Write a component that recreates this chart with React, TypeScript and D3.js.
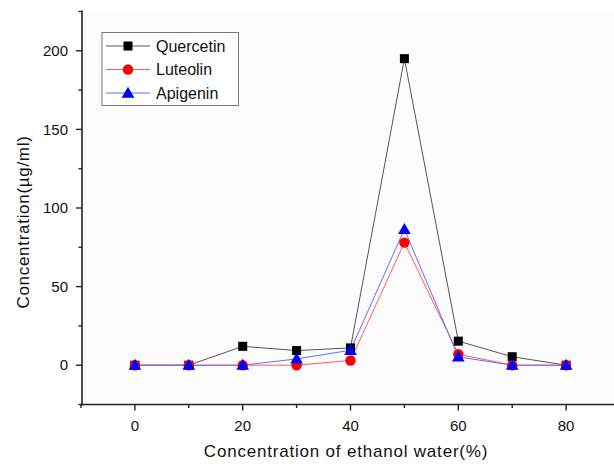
import React from "react";
import * as d3 from "d3";

// ethanol concentration (%) and measured concentrations (µg/ml)
const ethanol = [0, 10, 20, 30, 40, 50, 60, 70, 80];
const quercetin = [0, 0, 12, 9.3, 11, 195, 15.3, 5.4, 0];
const luteolin = [0, 0, 0, 0, 3, 78, 7, 0, 0];
const apigenin = [0, 0, 0, 4, 9.5, 86.5, 5.3, 0, 0];

const yMajor = [0, 50, 100, 150, 200];
const yMinor = [-25, 25, 75, 125, 175, 225];
const xMajor = [0, 20, 40, 60, 80];
const xMinor = [-10, 10, 30, 50, 70];

const FONT = "'Liberation Sans', Arial, Helvetica, sans-serif";

const series = [
  { name: "Quercetin", values: quercetin, line: "#555", fill: "#000", shape: "square" },
  { name: "Luteolin", values: luteolin, line: "#ff5a5a", fill: "#ff0000", shape: "circle" },
  { name: "Apigenin", values: apigenin, line: "#6a6aff", fill: "#0000ff", shape: "triangle" },
];

const Marker = ({ shape, x, y, fill }: { shape: string; x: number; y: number; fill: string }) => {
  if (shape === "square") return <rect x={x - 4.5} y={y - 4.5} width={9} height={9} fill={fill} />;
  if (shape === "circle") return <circle cx={x} cy={y} r={5.2} fill={fill} />;
  const p = d3.symbol(d3.symbolTriangle, 70)();
  return <path d={p || ""} transform={`translate(${x},${y + 1})`} fill={fill} />;
};

export default function App() {
  const width = 614;
  const height = 464;
  const left = 82;
  const bottom = 404.5;
  const top = 11.5;

  const x = d3.scaleLinear().domain([-10, 90]).range([81, 620]);
  const y = d3.scaleLinear().domain([-25, 225]).range([bottom, top]);

  const line = d3
    .line<number>()
    .x((_, i) => x(ethanol[i]))
    .y((d) => y(d));

  return (
    <svg
      width={width}
      height={height}
      style={{ position: "absolute", left: 0, top: 0, background: "#fff" }}
      fontFamily={FONT}
    >
      <rect x={left} y={top} width={width - left} height={bottom - top} fill="#fcfcfc" />

      {/* series lines */}
      {series.map((s) => (
        <path key={s.name} d={line(s.values) || ""} fill="none" stroke={s.line} strokeWidth={1} />
      ))}
      {/* markers */}
      {series.map((s) =>
        s.values.map((v, i) => (
          <Marker key={s.name + i} shape={s.shape} x={x(ethanol[i])} y={y(v)} fill={s.fill} />
        ))
      )}

      {/* y axis */}
      <line x1={left} x2={left} y1={top - 1} y2={bottom + 1} stroke="#222" strokeWidth={1.6} />
      {yMajor.map((t) => (
        <g key={"ym" + t}>
          <line x1={left - 6} x2={left} y1={y(t)} y2={y(t)} stroke="#222" strokeWidth={1.4} />
          <text x={left - 14} y={y(t)} dy="0.35em" textAnchor="end" fontSize={15} fill="#111">
            {t}
          </text>
        </g>
      ))}
      {yMinor.map((t) => (
        <line key={"yn" + t} x1={left - 3.5} x2={left} y1={y(t)} y2={y(t)} stroke="#222" strokeWidth={1.4} />
      ))}

      {/* x axis */}
      <line x1={left - 1} x2={width} y1={bottom} y2={bottom} stroke="#222" strokeWidth={1.6} />
      {xMajor.map((t) => (
        <g key={"xm" + t}>
          <line x1={x(t)} x2={x(t)} y1={bottom} y2={bottom + 6} stroke="#222" strokeWidth={1.4} />
          <text x={x(t)} y={bottom + 26} textAnchor="middle" fontSize={15} fill="#111">
            {t}
          </text>
        </g>
      ))}
      {xMinor.map((t) => (
        <line key={"xn" + t} x1={x(t)} x2={x(t)} y1={bottom} y2={bottom + 3.5} stroke="#222" strokeWidth={1.4} />
      ))}

      {/* axis titles */}
      <text x={346} y={457} textAnchor="middle" fontSize={17} letterSpacing={0.8} fill="#111">
        Concentration of ethanol water(%)
      </text>
      <text
        transform={`translate(29,222) rotate(-90)`}
        textAnchor="middle"
        fontSize={17}
        letterSpacing={0.7}
        fill="#111"
      >
        Concentration(µg/ml)
      </text>

      {/* legend */}
      <rect x={102} y={32.5} width={136.5} height={73} fill="#fff" stroke="#777" strokeWidth={1} />
      {series.map((s, i) => {
        const ly = 46 + i * 23.5;
        return (
          <g key={"lg" + s.name}>
            <line x1={106} x2={150} y1={ly} y2={ly} stroke={s.line} strokeWidth={1} />
            <Marker shape={s.shape} x={128} y={ly} fill={s.fill} />
            <text x={156} y={ly} dy="0.35em" fontSize={16} fill="#111">
              {s.name}
            </text>
          </g>
        );
      })}
    </svg>
  );
}
